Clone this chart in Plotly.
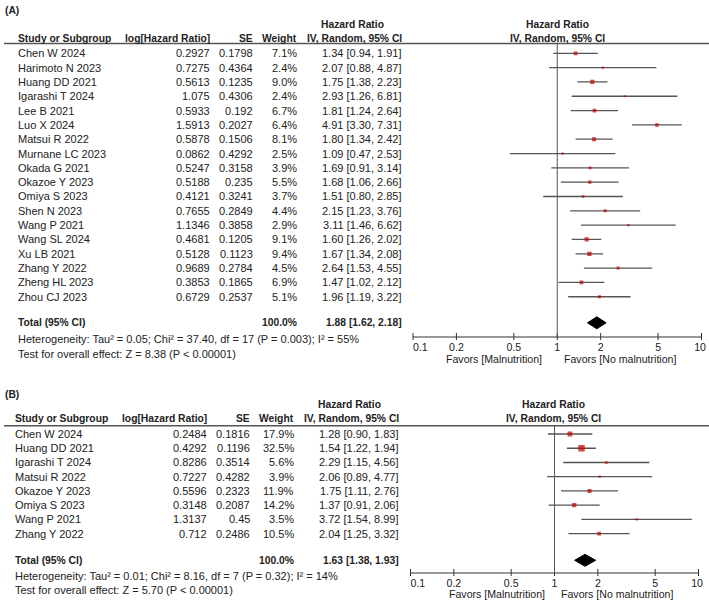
import plotly.graph_objects as go

# ---------------- data ----------------
A_studies = ["Chen W 2024", "Harimoto N 2023", "Huang DD 2021", "Igarashi T 2024", "Lee B 2021",
             "Luo X 2024", "Matsui R 2022", "Murnane LC 2023", "Okada G 2021", "Okazoe Y 2023",
             "Omiya S 2023", "Shen N 2023", "Wang P 2021", "Wang SL 2024", "Xu LB 2021",
             "Zhang Y 2022", "Zheng HL 2023", "Zhou CJ 2023"]
A_loghr = [0.2927, 0.7275, 0.5613, 1.075, 0.5933, 1.5913, 0.5878, 0.0862, 0.5247, 0.5188,
           0.4121, 0.7655, 1.1346, 0.4681, 0.5128, 0.9689, 0.3853, 0.6729]
A_se = [0.1798, 0.4364, 0.1235, 0.4306, 0.192, 0.2027, 0.1506, 0.4292, 0.3158, 0.235,
        0.3241, 0.2849, 0.3858, 0.1205, 0.1123, 0.2784, 0.1865, 0.2537]
A_weight = [7.1, 2.4, 9.0, 2.4, 6.7, 6.4, 8.1, 2.5, 3.9, 5.5, 3.7, 4.4, 2.9, 9.1, 9.4, 4.5, 6.9, 5.1]
A_hr = [1.34, 2.07, 1.75, 2.93, 1.81, 4.91, 1.80, 1.09, 1.69, 1.68, 1.51, 2.15, 3.11, 1.60, 1.67, 2.64, 1.47, 1.96]
A_lo = [0.94, 0.88, 1.38, 1.26, 1.24, 3.30, 1.34, 0.47, 0.91, 1.06, 0.80, 1.23, 1.46, 1.26, 1.34, 1.53, 1.02, 1.19]
A_hi = [1.91, 4.87, 2.23, 6.81, 2.64, 7.31, 2.42, 2.53, 3.14, 2.66, 2.85, 3.76, 6.62, 2.02, 2.08, 4.55, 2.12, 3.22]
A_total = [1.88, 1.62, 2.18]
A_het = "Heterogeneity: Tau² = 0.05; Chi² = 37.40, df = 17 (P = 0.003); I² = 55%"
A_test = "Test for overall effect: Z = 8.38 (P < 0.00001)"

B_studies = ["Chen W 2024", "Huang DD 2021", "Igarashi T 2024", "Matsui R 2022", "Okazoe Y 2023",
             "Omiya S 2023", "Wang P 2021", "Zhang Y 2022"]
B_loghr = [0.2484, 0.4292, 0.8286, 0.7227, 0.5596, 0.3148, 1.3137, 0.712]
B_se = [0.1816, 0.1196, 0.3514, 0.4282, 0.2323, 0.2087, 0.45, 0.2486]
B_weight = [17.9, 32.5, 5.6, 3.9, 11.9, 14.2, 3.5, 10.5]
B_hr = [1.28, 1.54, 2.29, 2.06, 1.75, 1.37, 3.72, 2.04]
B_lo = [0.90, 1.22, 1.15, 0.89, 1.11, 0.91, 1.54, 1.25]
B_hi = [1.83, 1.94, 4.56, 4.77, 2.76, 2.06, 8.99, 3.32]
B_total = [1.63, 1.38, 1.93]
B_het = "Heterogeneity: Tau² = 0.01; Chi² = 8.16, df = 7 (P = 0.32); I² = 14%"
B_test = "Test for overall effect: Z = 5.70 (P < 0.00001)"

tick_vals = [0.1, 0.2, 0.5, 1, 2, 5, 10]
tick_text = ["\u00a0" * 5 + "0.1", "0.2", "0.5", "1", "2", "5", "10" + "\u00a0"]
fav_left = "Favors [Malnutrition]"
fav_right = "Favors [No malnutrition]"

# ---------------- layout geometry (pixels) ----------------
W, H = 709, 603
FONT = "Liberation Sans, Arial, sans-serif"
TXT = "#222222"
GRAY = "#555555"
AXC = "#333333"
RED = "#c00000"
BOLD_SIZE = 10.3
TICK_SIZE = 10.6
PAD = 4        # px of plot area kept around the axis so edge marks are not clipped
LABEL_DROP = 2.5  # extra px between axis line and its tick labels


def X(px):
    return px / W


def Y(py):
    return 1 - py / H


panels = [
    dict(label="(A)", label_y=10, studies=A_studies, loghr=A_loghr, se=A_se, weight=A_weight,
         hr=A_hr, lo=A_lo, hi=A_hi, total=A_total, het=A_het, test=A_test,
         hdr1_y=24, hdr2_y=38, line_y=43.5, row0=53.3, step=14.32, total_y=322.8,
         het_y=339.3, test_y=353.7, axis_y=337, favors_y=358.5, x01=413, x10=701.5,
         name_x=16, loghr_x=212.3, se_x=255, w_x=299, hr_x=403.5, hdr1_c=352, plot_c=557,
         fav_l=544, fav_r=562.3, smax=4.3, xa="x", ya="y"),
    dict(label="(B)", label_y=394.3, studies=B_studies, loghr=B_loghr, se=B_se, weight=B_weight,
         hr=B_hr, lo=B_lo, hi=B_hi, total=B_total, het=B_het, test=B_test,
         hdr1_y=404.3, hdr2_y=419, line_y=425.7, row0=434, step=14.24, total_y=560.3,
         het_y=576, test_y=590, axis_y=573, favors_y=594, x01=410.5, x10=698.5,
         name_x=12.7, loghr_x=209.3, se_x=252.3, w_x=296, hr_x=401, hdr1_c=349, plot_c=553.5,
         fav_l=546.7, fav_r=559.3, smax=6.5, xa="x2", ya="y2"),
]

fig = go.Figure()
annotations = []
shapes = []
layout_axes = {}


def ann(text, x, y, xanchor="left", yref="paper", bold=False, size=11):
    annotations.append(dict(
        text=f"<b>{text}</b>" if bold else text, x=x, y=y, xref="paper", yref=yref,
        xanchor=xanchor, yanchor="middle", showarrow=False,
        font=dict(family=FONT, size=(BOLD_SIZE if bold and size == 11 else size), color=TXT)))


def line_trace(xs, ys, p, color, width):
    fig.add_trace(go.Scatter(x=xs, y=ys, xaxis=p["xa"], yaxis=p["ya"], mode="lines",
                             line=dict(color=color, width=width), hoverinfo="skip",
                             showlegend=False))


for p in panels:
    n = len(p["studies"])
    yref = p["ya"]
    axis_name_x = "xaxis" + p["xa"][1:]
    axis_name_y = "yaxis" + p["ya"][1:]
    step = p["step"]
    top_val = (p["line_y"] - p["row0"]) / step
    axis_row = (p["axis_y"] - p["row0"]) / step
    bot_val = (p["axis_y"] + PAD - p["row0"]) / step
    total_row = (p["total_y"] - p["row0"]) / step
    decade_px = (p["x10"] - p["x01"]) / 2
    xpad = PAD / decade_px
    dom_x = [X(p["x01"] - PAD), X(p["x10"] + PAD)]
    dom_y = [Y(p["axis_y"] + PAD), Y(p["line_y"])]

    layout_axes[axis_name_y] = dict(domain=dom_y, range=[bot_val, top_val], showticklabels=False,
                                    ticks="", showline=False, fixedrange=True, automargin=False,
                                    showgrid=False, zeroline=False)
    layout_axes[axis_name_x] = dict(
        domain=dom_x, anchor="free", position=Y(p["axis_y"] + LABEL_DROP), type="log",
        range=[-1 - xpad, 1 + xpad], showgrid=False, zeroline=False, showline=False, ticks="",
        tickvals=tick_vals, ticktext=tick_text, tickfont=dict(family=FONT, size=TICK_SIZE, color=TXT),
        ticklabeloverflow="allow", automargin=False, fixedrange=True)

    # axis baseline and tick marks crossing it
    line_trace([tick_vals[0], tick_vals[-1]], [axis_row, axis_row], p, AXC, 1)
    tx, ty = [], []
    for tv in tick_vals:
        tx += [tv, tv, None]
        ty += [axis_row - 4 / step, axis_row + 3 / step, None]
    line_trace(tx, ty, p, AXC, 1)
    # vertical line at HR = 1
    line_trace([1, 1], [top_val, axis_row], p, GRAY, 1)

    # header rule
    shapes.append(dict(type="line", xref="paper", yref="paper", x0=X(4), x1=1,
                       y0=Y(p["line_y"]), y1=Y(p["line_y"]), line=dict(color=GRAY, width=1.5)))

    # CI lines
    xs, ys = [], []
    for i in range(n):
        xs += [p["lo"][i], p["hi"][i], None]
        ys += [i, i, None]
    line_trace(xs, ys, p, GRAY, 1.3)
    # weight squares
    wmax = max(p["weight"])
    sizes = [p["smax"] * (w / wmax) ** 0.5 for w in p["weight"]]
    fig.add_trace(go.Scatter(x=p["hr"], y=list(range(n)), xaxis=p["xa"], yaxis=p["ya"], mode="markers",
                             marker=dict(symbol="square", size=sizes, color=RED, line=dict(width=0)),
                             hoverinfo="skip", showlegend=False))
    # diamond
    est, lo, hi = p["total"]
    hh = 6 / step
    fig.add_trace(go.Scatter(x=[lo, est, hi, est, lo], y=[total_row, total_row - hh, total_row,
                                                         total_row + hh, total_row],
                             xaxis=p["xa"], yaxis=p["ya"], mode="lines", fill="toself",
                             fillcolor="black", line=dict(color="black", width=1),
                             hoverinfo="skip", showlegend=False))

    # panel label
    ann(p["label"], X(3), Y(p["label_y"]), bold=True, size=11)
    # headers
    ann("Hazard Ratio", X(p["hdr1_c"]), Y(p["hdr1_y"]), xanchor="center", bold=True)
    ann("Hazard Ratio", X(p["plot_c"]), Y(p["hdr1_y"]), xanchor="center", bold=True)
    ann("Study or Subgroup", X(p["name_x"]), Y(p["hdr2_y"]), bold=True)
    ann("log[Hazard Ratio]", X(p["loghr_x"]), Y(p["hdr2_y"]), xanchor="right", bold=True)
    ann("SE", X(p["se_x"]), Y(p["hdr2_y"]), xanchor="right", bold=True)
    ann("Weight", X(p["w_x"]), Y(p["hdr2_y"]), xanchor="right", bold=True)
    ann("IV, Random, 95% CI", X(p["hr_x"]), Y(p["hdr2_y"]), xanchor="right", bold=True)
    ann("IV, Random, 95% CI", X(p["plot_c"]), Y(p["hdr2_y"]), xanchor="center", bold=True)

    # rows
    for i in range(n):
        ann(p["studies"][i], X(p["name_x"]), i, yref=yref)
        ann(repr(p["loghr"][i]), X(p["loghr_x"]), i, xanchor="right", yref=yref)
        ann(repr(p["se"][i]), X(p["se_x"]), i, xanchor="right", yref=yref)
        ann(f"{p['weight'][i]:.1f}%", X(p["w_x"]), i, xanchor="right", yref=yref)
        ann(f"{p['hr'][i]:.2f} [{p['lo'][i]:.2f}, {p['hi'][i]:.2f}]", X(p["hr_x"]), i,
            xanchor="right", yref=yref)

    # totals
    ann("Total (95% CI)", X(p["name_x"]), total_row, yref=yref, bold=True)
    ann("100.0%", X(p["w_x"]), total_row, xanchor="right", yref=yref, bold=True)
    ann(f"{est:.2f} [{lo:.2f}, {hi:.2f}]", X(p["hr_x"]), total_row, xanchor="right", yref=yref, bold=True)
    ann(p["het"], X(p["name_x"]), Y(p["het_y"]))
    ann(p["test"], X(p["name_x"]), Y(p["test_y"]))
    # favours labels
    ann(fav_left, X(p["fav_l"]), Y(p["favors_y"]), xanchor="right", size=10.6)
    ann(fav_right, X(p["fav_r"]), Y(p["favors_y"]), xanchor="left", size=10.6)

fig.update_layout(
    width=W, height=H, autosize=False, margin=dict(l=0, r=0, t=0, b=0, pad=0),
    paper_bgcolor="white", plot_bgcolor="white", showlegend=False,
    annotations=annotations, shapes=shapes, **layout_axes)

fig.write_html("out.html")
